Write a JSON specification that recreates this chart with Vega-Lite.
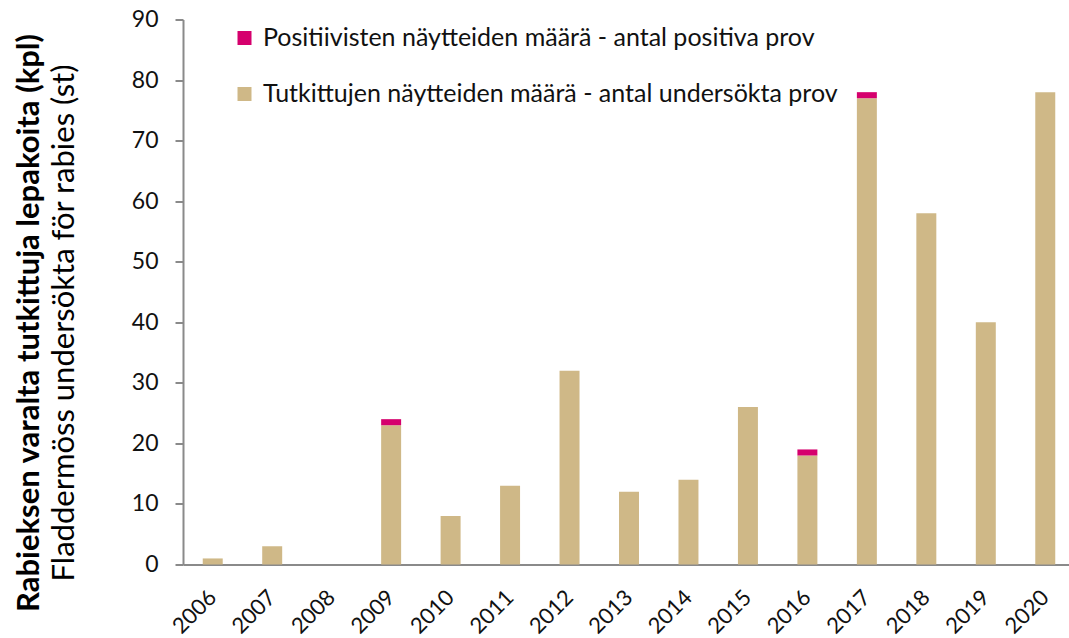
{
  "$schema": "https://vega.github.io/schema/vega-lite/v6.json",
  "width": 886,
  "height": 545,
  "autosize": {"type": "none"},
  "padding": {"left": 183, "top": 19.5, "right": 0, "bottom": 73.5},
  "background": "white",
  "config": {
    "font": "Lato",
    "view": {"stroke": null}
  },
  "title": {
    "text": "Rabieksen varalta tutkittuja lepakoita (kpl)",
    "subtitle": "Fladdermöss undersökta för rabies (st)",
    "orient": "left",
    "anchor": "middle",
    "frame": "bounds",
    "offset": 50,
    "font": "Lato",
    "fontSize": 31,
    "fontWeight": "bold",
    "color": "#000000",
    "subtitleFont": "Lato",
    "subtitleFontSize": 31,
    "subtitleFontWeight": "normal",
    "subtitleColor": "#000000",
    "subtitlePadding": 4
  },
  "data": {
    "values": [
      {"year": "2006", "series": "Tutkittujen näytteiden määrä - antal undersökta prov", "value": 1},
      {"year": "2007", "series": "Tutkittujen näytteiden määrä - antal undersökta prov", "value": 3},
      {"year": "2008", "series": "Tutkittujen näytteiden määrä - antal undersökta prov", "value": 0},
      {"year": "2009", "series": "Tutkittujen näytteiden määrä - antal undersökta prov", "value": 23},
      {"year": "2010", "series": "Tutkittujen näytteiden määrä - antal undersökta prov", "value": 8},
      {"year": "2011", "series": "Tutkittujen näytteiden määrä - antal undersökta prov", "value": 13},
      {"year": "2012", "series": "Tutkittujen näytteiden määrä - antal undersökta prov", "value": 32},
      {"year": "2013", "series": "Tutkittujen näytteiden määrä - antal undersökta prov", "value": 12},
      {"year": "2014", "series": "Tutkittujen näytteiden määrä - antal undersökta prov", "value": 14},
      {"year": "2015", "series": "Tutkittujen näytteiden määrä - antal undersökta prov", "value": 26},
      {"year": "2016", "series": "Tutkittujen näytteiden määrä - antal undersökta prov", "value": 18},
      {"year": "2017", "series": "Tutkittujen näytteiden määrä - antal undersökta prov", "value": 77},
      {"year": "2018", "series": "Tutkittujen näytteiden määrä - antal undersökta prov", "value": 58},
      {"year": "2019", "series": "Tutkittujen näytteiden määrä - antal undersökta prov", "value": 40},
      {"year": "2020", "series": "Tutkittujen näytteiden määrä - antal undersökta prov", "value": 78},
      {"year": "2009", "series": "Positiivisten näytteiden määrä - antal positiva prov", "value": 1},
      {"year": "2016", "series": "Positiivisten näytteiden määrä - antal positiva prov", "value": 1},
      {"year": "2017", "series": "Positiivisten näytteiden määrä - antal positiva prov", "value": 1}
    ]
  },
  "mark": {"type": "bar"},
  "encoding": {
    "x": {
      "field": "year",
      "type": "nominal",
      "scale": {"range": [0, 892], "paddingInner": 0.664, "paddingOuter": 0.332},
      "axis": {
        "title": null,
        "labelAngle": -45,
        "labelAlign": "right",
        "labelBaseline": "middle",
        "labelFont": "Lato",
        "labelFontSize": 22,
        "labelColor": "#111111",
        "labelPadding": 29,
        "labelOffset": 0,
        "ticks": false,
        "domainColor": "#8a8a8a",
        "domainWidth": 2
      }
    },
    "y": {
      "field": "value",
      "type": "quantitative",
      "stack": "zero",
      "scale": {"domain": [0, 90], "nice": false},
      "axis": {
        "title": null,
        "values": [0, 10, 20, 30, 40, 50, 60, 70, 80, 90],
        "grid": false,
        "labelFont": "Lato",
        "labelFontSize": 23,
        "labelColor": "#111111",
        "labelPadding": 17,
        "tickSize": 8,
        "tickColor": "#8a8a8a",
        "tickWidth": 2,
        "domainColor": "#8a8a8a",
        "domainWidth": 2
      }
    },
    "color": {
      "field": "series",
      "type": "nominal",
      "scale": {
        "domain": ["Positiivisten näytteiden määrä - antal positiva prov", "Tutkittujen näytteiden määrä - antal undersökta prov"],
        "range": ["#d5006d", "#cfb887"]
      },
      "legend": {
        "title": null,
        "orient": "none",
        "legendX": 49,
        "legendY": 6,
        "direction": "vertical",
        "symbolType": "square",
        "symbolSize": 196,
        "symbolStrokeWidth": 0,
        "symbolOpacity": 1,
        "labelFont": "Lato",
        "labelFontSize": 25,
        "labelColor": "#111111",
        "labelOffset": 6,
        "labelLimit": 800,
        "rowPadding": 30,
        "padding": 0
      }
    },
    "order": {"field": "series", "sort": "descending"}
  }
}
